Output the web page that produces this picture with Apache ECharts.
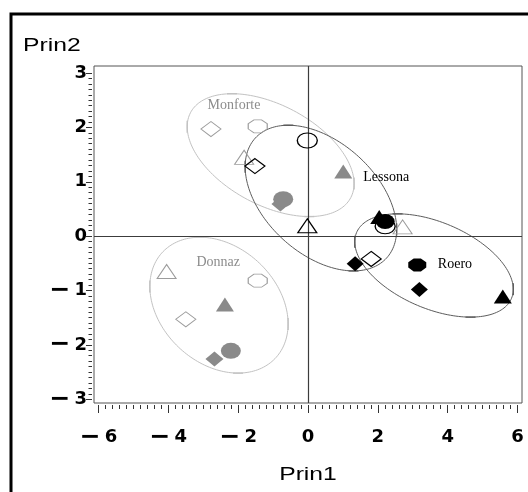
<!DOCTYPE html>
<html><head><meta charset="utf-8">
<script src="https://cdn.jsdelivr.net/npm/echarts@6/dist/echarts.min.js"></script>
<style>html,body{margin:0;padding:0;background:#fff}#c{width:528px;height:492px}</style>
</head><body><div id="c"></div>
<script>
// ---- data: [Prin1, Prin2] ----
const grayHollowDiamond  = [[-2.78, 1.97], [-3.50, -1.53]];
const grayHollowOctagon  = [[-1.44, 2.02], [-1.44, -0.82]];
const grayHollowTriangle = [[-1.83, 1.45], [-4.05, -0.65], [2.71, 0.17]];
const grayFilledDiamond  = [[-0.79, 0.59], [-2.68, -2.26]];
const grayFilledCircle   = [[-0.71, 0.68], [-2.21, -2.11]];
const grayFilledTriangle = [[1.01, 1.19], [-2.38, -1.26]];
const blackHollowCircle  = [[-0.02, 1.76], [2.21, 0.18]];
const blackHollowDiamond = [[-1.52, 1.29], [1.81, -0.42]];
const blackHollowTriangle= [[-0.02, 0.19]];
const blackFilledDiamond = [[1.35, -0.51], [3.19, -0.98]];
const blackFilledCircle  = [[2.21, 0.27]];
const blackFilledOctagon = [[3.13, -0.53]];
const blackFilledTriangle= [[2.04, 0.35], [5.58, -1.11]];

const groupNames      = ['Monforte', 'Lessona', 'Roero', 'Donnaz'];
const groupLabelX     = [-2.12, 2.24, 4.21, -2.57];
const groupLabelY     = [2.41, 1.09, -0.51, -0.48];
const ellipseCenterX  = [-1.07, 0.37, 3.61, -2.55];
const ellipseCenterY  = [1.49, 0.70, -0.54, -1.27];
const ellipseHalfX    = [2.39, 2.17, 2.27, 1.98];
const ellipseHalfY    = [1.13, 1.34, 0.95, 1.25];
const ellipsePhaseDeg = [117.6, 115.5, 117.4, 106];

const xTickValues = [-6, -4, -2, 0, 2, 4, 6];
const xTickLabels = ['−6', '−4', '−2', '0', '2', '4', '6'];
const yTickValues = [-3, -2, -1, 0, 1, 2, 3];
const yTickLabels = ['−3', '−2', '−1', '0', '1', '2', '3'];
const xMinorStep = 0.2, yMinorStep = 0.1;

// ---- styles ----
const groupStyle = {
  Monforte: {line: '#c2c2c2', text: '#8c8c8c'},
  Lessona:  {line: '#5c5c5c', text: '#000'},
  Roero:    {line: '#5c5c5c', text: '#000'},
  Donnaz:   {line: '#c2c2c2', text: '#8c8c8c'}
};
const GRAY_FILL = '#8a8a8a', GRAY_LINE = '#9c9c9c', BLACK = '#000';
const OCT = 'path://M30,0L70,0L100,30L100,70L70,100L30,100L0,70L0,30Z';

function minorTicks(lo, hi, step) {
  const out = [];
  const n = Math.round((hi - lo) / step);
  for (let k = 0; k <= n; k++) out.push(Math.round((lo + k * step) * 100) / 100);
  return out;
}
function lookup(vals, labels) {
  return v => {
    const i = vals.findIndex(t => Math.abs(t - v) < 1e-6);
    if (i < 0) return '';
    const s = labels[i];
    return s.charAt(0) === '−' ? '{m|−}{d|' + s.slice(1) + '}' : '{d|' + s + '}';
  };
}

function markers(data, symbol, size, fill, stroke, lw) {
  return {
    type: 'scatter', xAxisIndex: 0, yAxisIndex: 0, data, symbol, symbolSize: size, silent: true,
    itemStyle: {color: fill || 'transparent', borderColor: stroke || fill, borderWidth: stroke ? lw : 0, opacity: 1},
    z: 5
  };
}

const chart = echarts.init(document.getElementById('c'), null, {renderer: 'canvas'});

const ellipseSeries = {
  type: 'custom', xAxisIndex: 0, yAxisIndex: 0, silent: true, z: 3,
  data: groupNames.map((n, i) => [ellipseCenterX[i], ellipseCenterY[i], i]),
  encode: {x: 0, y: 1},
  renderItem: (params, api) => {
    const i = api.value(2);
    const cx = ellipseCenterX[i], cy = ellipseCenterY[i], rx = ellipseHalfX[i], ry = ellipseHalfY[i];
    const ph = ellipsePhaseDeg[i] * Math.PI / 180;
    const pts = [];
    for (let k = 0; k < 180; k++) {
      const t = k / 180 * 2 * Math.PI;
      pts.push(api.coord([cx + rx * Math.cos(t), cy + ry * Math.cos(t + ph)]));
    }
    const col = groupStyle[groupNames[i]].line;
    const children = [{type: 'polygon', shape: {points: pts}, style: {fill: 'none', stroke: col, lineWidth: 1}}];
    const top = api.coord([cx + rx * Math.cos(ph), cy + ry]);
    const bot = api.coord([cx - rx * Math.cos(ph), cy - ry]);
    const lft = api.coord([cx - rx, cy - ry * Math.cos(ph)]);
    const rgt = api.coord([cx + rx, cy + ry * Math.cos(ph)]);
    [[top, 1], [bot, 1], [lft, 0], [rgt, 0]].forEach(([p, h]) => {
      children.push({type: 'line', shape: h ? {x1: p[0] - 5, y1: p[1], x2: p[0] + 5, y2: p[1]} : {x1: p[0], y1: p[1] - 6, x2: p[0], y2: p[1] + 6},
        style: {stroke: col, lineWidth: 1.4}});
    });
    return {type: 'group', children};
  }
};

const labelSeries = {
  type: 'custom', xAxisIndex: 0, yAxisIndex: 0, silent: true, z: 6,
  data: groupNames.map((n, i) => [groupLabelX[i], groupLabelY[i], i]),
  encode: {x: 0, y: 1},
  renderItem: (params, api) => {
    const i = api.value(2);
    const p = api.coord([api.value(0), api.value(1)]);
    return {type: 'text', x: p[0], y: p[1], style: {text: groupNames[i], textAlign: 'center', textVerticalAlign: 'middle',
      font: '14px "Liberation Serif", "DejaVu Serif", serif', fill: groupStyle[groupNames[i]].text}};
  }
};

const refLines = {
  type: 'scatter', xAxisIndex: 0, yAxisIndex: 0, data: [], silent: true,
  markLine: {silent: true, symbol: 'none', animation: false, label: {show: false},
    lineStyle: {color: '#3c3c3c', width: 1.2, type: 'solid'},
    data: [{xAxis: 0}, {yAxis: 0}]}
};

const fnt = {fontFamily: 'DejaVu Sans', fontSize: 18, fontWeight: 'bold', color: '#000'};
const richLabels = {
  m: Object.assign({}, fnt, {fontSize: 25, lineHeight: 22, width: 25, align: 'left', verticalAlign: 'middle'}),
  d: Object.assign({}, fnt, {lineHeight: 22, verticalAlign: 'middle'})
};

chart.setOption({
  animation: false,
  backgroundColor: '#fff',
  grid: {left: 94, top: 66, width: 428, height: 337, show: true, borderColor: '#555', borderWidth: 1, backgroundColor: 'transparent'},
  xAxis: [
    {type: 'value', min: -6.13, max: 6.13, position: 'bottom', offset: 2,
     axisLine: {show: false, onZero: false}, splitLine: {show: false},
     axisTick: {show: true, length: 8, customValues: xTickValues, lineStyle: {color: '#333', width: 1}},
     axisLabel: Object.assign({customValues: xTickValues, formatter: lookup(xTickValues, xTickLabels), margin: 21, rich: richLabels}, fnt, {lineHeight: 22})},
    {type: 'value', min: -6.13, max: 6.13, position: 'bottom', offset: 2,
     axisLine: {show: false, onZero: false}, splitLine: {show: false}, axisLabel: {show: false},
     axisTick: {show: true, length: 4, customValues: minorTicks(-6, 6, xMinorStep), lineStyle: {color: '#333', width: 1}}}
  ],
  yAxis: [
    {type: 'value', min: -3.07, max: 3.13, position: 'left', offset: 2,
     axisLine: {show: false, onZero: false}, splitLine: {show: false},
     axisTick: {show: true, length: 6, customValues: yTickValues, lineStyle: {color: '#333', width: 1}},
     axisLabel: Object.assign({customValues: yTickValues, formatter: lookup(yTickValues, yTickLabels), margin: 5, rich: richLabels}, fnt, {lineHeight: 22})},
    {type: 'value', min: -3.07, max: 3.13, position: 'left', offset: 2,
     axisLine: {show: false, onZero: false}, splitLine: {show: false}, axisLabel: {show: false},
     axisTick: {show: true, length: 3.5, customValues: minorTicks(-3, 3, yMinorStep), lineStyle: {color: '#333', width: 1}}}
  ],
  graphic: [
    {type: 'polyline', shape: {points: [[11, 492], [11, 14], [528, 14]]}, style: {stroke: '#000', lineWidth: 3, fill: 'none'}, z: 10},
    {type: 'text', x: 23, y: 46, scaleX: 1.3, style: {text: 'Prin2', textAlign: 'left', textVerticalAlign: 'middle', font: '19px "Liberation Sans", Arial, sans-serif', fill: '#000'}},
    {type: 'text', x: 308, y: 475, scaleX: 1.3, style: {text: 'Prin1', textAlign: 'center', textVerticalAlign: 'middle', font: '19px "Liberation Sans", Arial, sans-serif', fill: '#000'}}
  ],
  series: [
    ellipseSeries,
    refLines,
    markers(grayHollowDiamond, 'diamond', [20, 15], null, GRAY_LINE, 1),
    markers(grayHollowOctagon, OCT, [19, 13], null, GRAY_LINE, 1),
    markers(grayHollowTriangle, 'triangle', [19, 14], null, GRAY_LINE, 1),
    markers(grayFilledDiamond, 'diamond', [18, 15], GRAY_FILL),
    markers(grayFilledCircle, 'circle', [20, 16], GRAY_FILL),
    markers(grayFilledTriangle, 'triangle', [18, 14], GRAY_FILL),
    markers(blackHollowCircle, 'circle', [20, 15], null, BLACK, 1.2),
    markers(blackHollowDiamond, 'diamond', [20, 15], null, BLACK, 1.2),
    markers(blackHollowTriangle, 'triangle', [19, 14], null, BLACK, 1.2),
    markers(blackFilledDiamond, 'diamond', [17, 15], BLACK),
    markers(blackFilledCircle, 'circle', [19, 15], BLACK),
    markers(blackFilledOctagon, OCT, [18, 13], BLACK),
    markers(blackFilledTriangle, 'triangle', [18, 14], BLACK),
    labelSeries
  ]
});
</script></body></html>
